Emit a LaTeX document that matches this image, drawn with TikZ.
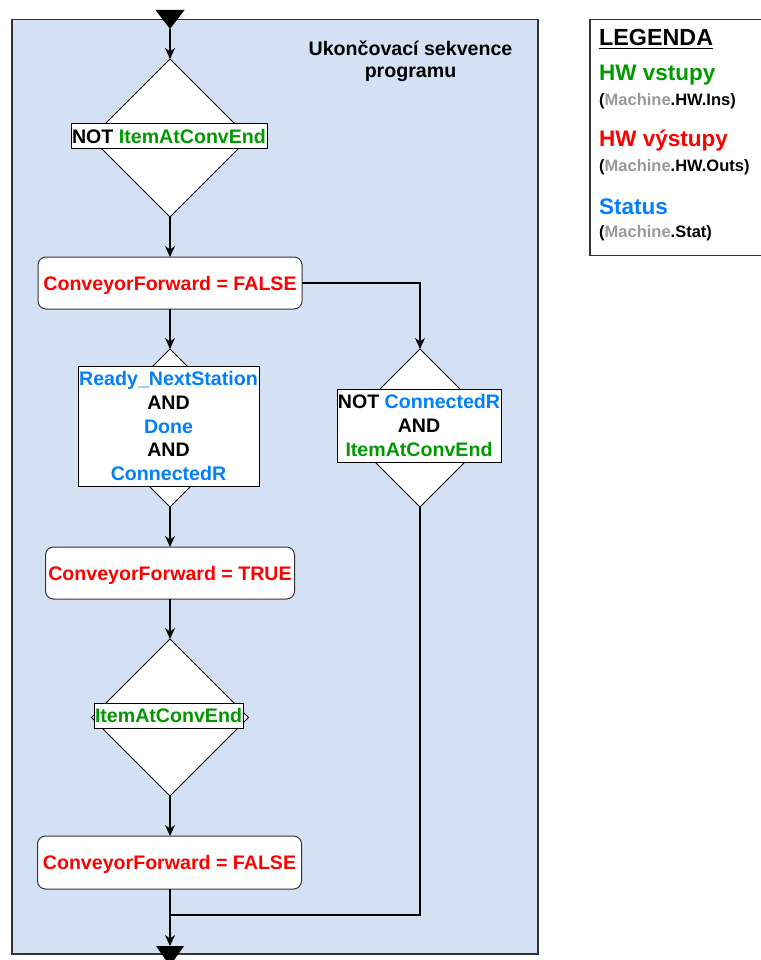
\documentclass[tikz,border=0pt]{standalone}
\usepackage{fontspec}
\setmainfont{Liberation Sans}
\usetikzlibrary{shapes.geometric,arrows.meta}
\definecolor{cblue}{HTML}{D4E1F5}
\definecolor{hwin}{HTML}{009900}
\definecolor{hwout}{HTML}{FF0000}
\definecolor{stat}{HTML}{007FFF}
\definecolor{mach}{HTML}{999999}
\definecolor{edgec}{HTML}{333333}
\begin{document}
\begin{tikzpicture}[x=1pt,y=-1pt,
  fnt/.style={font=\fontsize{19.6}{23.6}\selectfont\bfseries},
  dia/.style={shape=diamond, draw=black, line width=1pt, fill=white,
    minimum width=158pt, minimum height=158pt, inner sep=0pt, outer sep=0pt, aspect=1},
  lbl/.style={fnt, draw=black, line width=1pt, fill=white, inner sep=0.5pt,
    outer sep=0pt, align=center},
  proc/.style={fnt, text=hwout, draw=edgec, line width=1pt, fill=white,
    rounded corners=8pt, minimum height=52pt, inner sep=0pt, outer sep=0pt,
    text depth=0pt},
  arr/.style={draw=black, line width=1.1pt, -{Stealth[length=11pt,width=10pt,inset=3.5pt]}},
  ln/.style={draw=black, line width=1.1pt},
  legh/.style={font=\fontsize{22.5}{26}\selectfont\bfseries, inner sep=0pt, anchor=base west},
  legs/.style={font=\fontsize{16.5}{19}\selectfont\bfseries, inner sep=0pt, anchor=base west},
]
\useasboundingbox (0,0) rectangle (760,960);

% container
\draw[draw=edgec, fill=cblue, line width=1.2pt] (12,19.5) rectangle (538,954);
\node[font=\fontsize{19.6}{22}\selectfont\bfseries, align=center, inner sep=0pt] (title)
  at (410.5,61.2) {Ukončovací sekvence\\programu};

% legend
\draw[draw=edgec, fill=white, line width=1.2pt] (590,19.5) rectangle (780,255.5);
\node[legh, font=\fontsize{23.3}{26}\selectfont\bfseries] (lg) at (599,46) {LEGENDA};
\draw[line width=1.6pt] ([yshift=-2.6pt]lg.base west) -- ([yshift=-2.6pt]lg.base east);
\node[legh, text=hwin] (l1) at (599,80.5) {HW vstupy};
\node[legs] (l1s) at (599,105.7) {(\textcolor{mach}{Machine}.HW.Ins)};
\node[legh, text=hwout] (l2) at (599,146.7) {HW výstupy};
\node[legs] (l2s) at (599,171.7) {(\textcolor{mach}{Machine}.HW.Outs)};
\node[legh, text=stat] (l3) at (599,214) {Status};
\node[legs] (l3s) at (599,237.3) {(\textcolor{mach}{Machine}.Stat)};

% triangles (in / out)
\fill[black] (155.5,10) -- (184.5,10) -- (170,29) -- cycle;
\coordinate (topT) at (170,29);
\fill[black] (156,946) -- (184,946) -- (170,966) -- cycle;
\coordinate (botT) at (170,946);

% decision 1
\node[dia] (d1) at (170,138) {};
\node[lbl, minimum width=196pt, minimum height=25pt] (d1l) at (169,136.5)
  {NOT \textcolor{hwin}{ItemAtConvEnd}};

% process 1
\node[proc, minimum width=264pt] (b1) at (170,283) {ConveyorForward = FALSE};

% decision 2 (left)
\node[dia] (d2) at (170,428) {};
\node[lbl, minimum width=181pt, minimum height=120pt] (d2l) at (168.5,426)
  {\textcolor{stat}{Ready\_NextStation}\\AND\\\textcolor{stat}{Done}\\AND\\\textcolor{stat}{ConnectedR}};

% decision 3 (right)
\node[dia] (d3) at (420,428) {};
\node[lbl, minimum width=164pt, minimum height=73pt] (d3l) at (419,425.5)
  {NOT \textcolor{stat}{ConnectedR}\\AND\\\textcolor{hwin}{ItemAtConvEnd}};

% process 2
\node[proc, minimum width=249pt] (b2) at (170,573) {ConveyorForward = TRUE};

% decision 4
\node[dia, minimum width=157pt, minimum height=157pt] (d4) at (170,717.5) {};
\node[lbl, minimum width=149pt, minimum height=25pt] (d4l) at (168.5,715.5)
  {\textcolor{hwin}{ItemAtConvEnd}};

% process 3
\node[proc, minimum width=264pt, minimum height=53pt] (b3) at (169.5,862.5) {ConveyorForward = FALSE};

\coordinate (jn) at (170,915);

% connectors
\draw[arr] (topT) -- (d1.north);
\draw[arr] (d1.south) -- (b1.north -| d1.south);
\draw[arr] (b1.south -| d2.north) -- (d2.north);
\draw[arr] (b1.east) -| (d3.north);
\draw[arr] (d2.south) -- (b2.north -| d2.south);
\draw[arr] (b2.south -| d4.north) -- (d4.north);
\draw[arr] (d4.south) -- (b3.north -| d4.south);
\draw[ln] (b3.south -| jn) -- (jn);
\draw[ln] (d3.south) |- (jn);
\draw[arr] (jn) -- (botT);
\end{tikzpicture}
\end{document}
